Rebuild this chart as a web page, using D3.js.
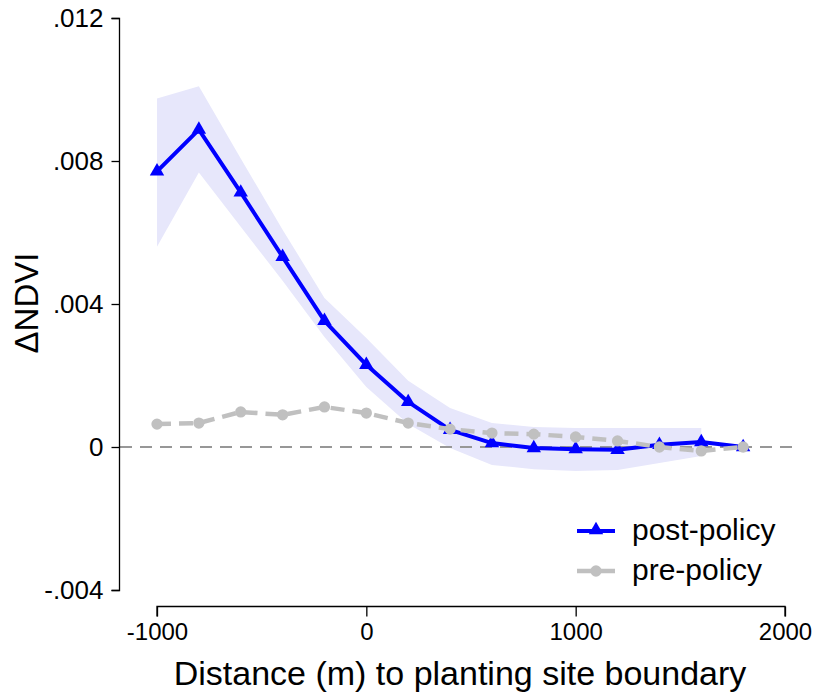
<!DOCTYPE html>
<html>
<head>
<meta charset="utf-8">
<script src="https://cdn.jsdelivr.net/npm/d3@7"></script>
<style>
  body { margin: 0; background: #fff; }
  text { font-family: "Liberation Sans", Arial, sans-serif; fill: #000; }
</style>
</head>
<body>
<div class="chart"></div>
<script>
var svgWidth = 818;
var svgHeight = 696;

// distance bins (m)
var distances = [-1000, -800, -600, -400, -200, 0, 200, 400, 600, 800, 1000, 1200, 1400, 1600, 1800];

// post-policy estimates
var postValues = [0.00771, 0.00888, 0.00712, 0.00532, 0.00353, 0.00230, 0.00126, 0.00048,
  0.00011, -0.00003, -0.00006, -0.00008, 0.00006, 0.00014, 0];
// 95% CI for post-policy (last bin is the reference, no band)
var postUpper = [0.00975, 0.01009, 0.00807, 0.00608, 0.00417, 0.00305, 0.00185, 0.00109,
  0.00067, 0.00056, 0.00053, 0.00053, 0.00053, 0.00053];
var postLower = [0.00560, 0.00768, 0.00616, 0.00465, 0.00308, 0.00168, 0.00064, -0.00003,
  -0.00050, -0.00062, -0.00067, -0.00064, -0.00045, -0.00025];

// pre-policy estimates
var preValues = [0.00064, 0.00067, 0.00098, 0.00090, 0.00112, 0.00095, 0.00067, 0.00050,
  0.00039, 0.00036, 0.00028, 0.00017, 0.00000, -0.00011, 0];

var xTicks = [-1000, 0, 1000, 2000];
var yTicks = [-0.004, 0, 0.004, 0.008, 0.012];
var yTickLabels = ["-.004", "0", ".004", ".008", ".012"];

var svg = d3.select(".chart")
  .append("svg")
  .attr("width", svgWidth)
  .attr("height", svgHeight);

var x = d3.scaleLinear().domain([-1000, 2000]).range([157, 785]);
var y = d3.scaleLinear().domain([-0.004, 0.012]).range([590, 18]);

// confidence band
var bandData = postUpper.map(function(u, i) {
  return { d: distances[i], hi: u, lo: postLower[i] };
});
svg.append("path")
  .datum(bandData)
  .attr("fill", "#e7e7fb")
  .attr("d", d3.area()
    .x(d => x(d.d))
    .y0(d => y(d.lo))
    .y1(d => y(d.hi)));

// zero reference line
svg.append("line")
  .attr("x1", 120).attr("x2", 800)
  .attr("y1", y(0)).attr("y2", y(0))
  .attr("stroke", "#979797")
  .attr("stroke-width", 2)
  .attr("stroke-dasharray", "12,8");

var line = d3.line().x(d => x(d[0])).y(d => y(d[1]));
var postPts = distances.map((d, i) => [d, postValues[i]]);
var prePts = distances.map((d, i) => [d, preValues[i]]);

var tri = d3.symbol().type(d3.symbolTriangle).size(90);
var dot = d3.symbol().type(d3.symbolCircle).size(100);

// post-policy
svg.append("path")
  .datum(postPts)
  .attr("fill", "none")
  .attr("stroke", "#0000ff")
  .attr("stroke-width", 4)
  .attr("stroke-linejoin", "round")
  .attr("d", line);
svg.selectAll(".tri")
  .data(postPts)
  .enter()
  .append("path")
  .attr("class", "tri")
  .attr("transform", d => `translate(${x(d[0])},${y(d[1])})`)
  .attr("d", tri)
  .attr("fill", "#0000ff");

// pre-policy
svg.append("path")
  .datum(prePts)
  .attr("fill", "none")
  .attr("stroke", "#c0c0c0")
  .attr("stroke-width", 4.5)
  .attr("stroke-dasharray", "14,8")
  .attr("d", line);
svg.selectAll(".dot")
  .data(prePts)
  .enter()
  .append("path")
  .attr("class", "dot")
  .attr("transform", d => `translate(${x(d[0])},${y(d[1])})`)
  .attr("d", dot)
  .attr("fill", "#c0c0c0");

// y axis
var leftAxis = d3.axisLeft(y)
  .tickValues(yTicks)
  .tickSize(8)
  .tickPadding(8)
  .tickFormat((d, i) => yTickLabels[i]);
var yAxis = svg.append("g")
  .attr("transform", "translate(119.5,0)")
  .call(leftAxis);
yAxis.select(".domain").attr("d", "M-8,18.5H0V590.5H-8").attr("stroke-width", 1.3);
yAxis.selectAll("line").attr("stroke-width", 1.3);
yAxis.selectAll("text").attr("font-size", 26).style("font-family", "'Liberation Sans', Arial, sans-serif");

// x axis
var bottomAxis = d3.axisBottom(x)
  .tickValues(xTicks)
  .tickSize(10)
  .tickPadding(6)
  .tickFormat(d => String(d));
var xAxis = svg.append("g")
  .attr("transform", "translate(0,606.5)")
  .call(bottomAxis);
xAxis.select(".domain").attr("d", "M157,10V0H785V10").attr("stroke-width", 1.3);
xAxis.selectAll("line").attr("stroke-width", 1.3);
xAxis.selectAll("text").attr("font-size", 24).style("font-family", "'Liberation Sans', Arial, sans-serif");

// axis titles
svg.append("text")
  .attr("x", 460)
  .attr("y", 685)
  .attr("text-anchor", "middle")
  .attr("font-size", 34)
  .text("Distance (m) to planting site boundary");

svg.append("text")
  .attr("transform", "translate(38,303) rotate(-90)")
  .attr("text-anchor", "middle")
  .attr("font-size", 33)
  .text("ΔNDVI");

// legend
var legend = svg.append("g");
legend.append("line")
  .attr("x1", 577).attr("x2", 615).attr("y1", 531).attr("y2", 531)
  .attr("stroke", "#0000ff").attr("stroke-width", 4);
legend.append("path")
  .attr("transform", "translate(596,530)")
  .attr("d", tri)
  .attr("fill", "#0000ff");
legend.append("text")
  .attr("x", 632).attr("y", 540)
  .attr("font-size", 30)
  .text("post-policy");

legend.append("line")
  .attr("x1", 577).attr("x2", 615).attr("y1", 571).attr("y2", 571)
  .attr("stroke", "#c0c0c0").attr("stroke-width", 4.5);
legend.append("path")
  .attr("transform", "translate(596,571)")
  .attr("d", dot)
  .attr("fill", "#c0c0c0");
legend.append("text")
  .attr("x", 632).attr("y", 580)
  .attr("font-size", 30)
  .text("pre-policy");
</script>
</body>
</html>
